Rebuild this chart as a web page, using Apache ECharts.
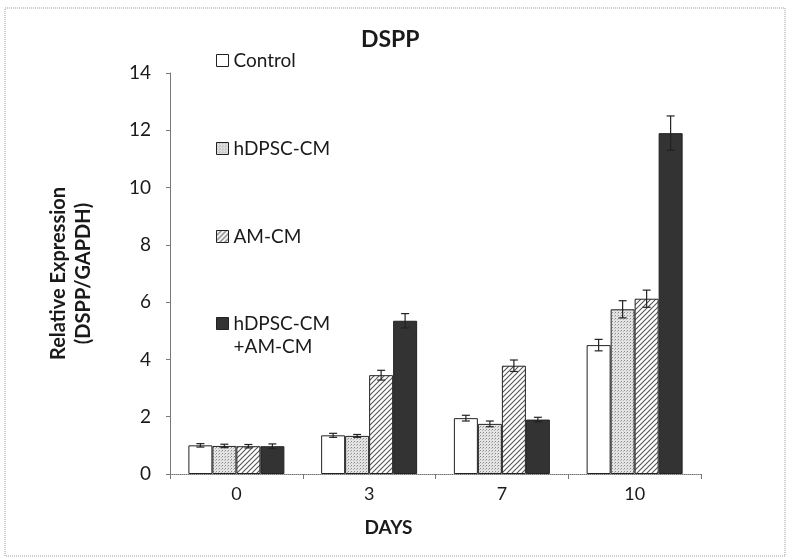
<!DOCTYPE html>
<html>
<head>
<meta charset="utf-8">
<script src="https://cdn.jsdelivr.net/npm/echarts@6/dist/echarts.min.js"></script>
<style>
  html, body { margin: 0; padding: 0; background: #fff; }
  #main { width: 794px; height: 559px; }
</style>
</head>
<body>
<div id="main"></div>
<script>
// 数据
var days = ['0', '3', '7', '10'];
var groupNames = ['Control', 'hDPSC-CM', 'AM-CM', 'hDPSC-CM +AM-CM'];
var controlVals = [1.0, 1.35, 1.95, 4.5];
var controlErr = [0.06, 0.07, 0.1, 0.2];
var hdpscVals = [0.98, 1.33, 1.75, 5.75];
var hdpscErr = [0.06, 0.05, 0.1, 0.3];
var amVals = [0.97, 3.45, 3.78, 6.12];
var amErr = [0.06, 0.17, 0.2, 0.3];
var comboVals = [0.97, 5.35, 1.9, 11.9];
var comboErr = [0.08, 0.25, 0.08, 0.6];
var yTicks = [0, 2, 4, 6, 8, 10, 12, 14];

var fontName = "Lato, 'Open Sans', sans-serif";

// 填充图案
function makeDots() {
  var c = document.createElement('canvas');
  c.width = 3; c.height = 3;
  var ctx = c.getContext('2d');
  ctx.fillStyle = '#e4e4e4';
  ctx.fillRect(0, 0, 3, 3);
  ctx.fillStyle = '#8a8a8a';
  ctx.fillRect(0, 0, 1, 1);
  ctx.fillStyle = '#b5b5b5';
  ctx.fillRect(2, 1, 1, 1);
  return c;
}
function makeHatch() {
  var c = document.createElement('canvas');
  c.width = 5; c.height = 5;
  var ctx = c.getContext('2d');
  ctx.fillStyle = '#ffffff';
  ctx.fillRect(0, 0, 5, 5);
  ctx.strokeStyle = '#555';
  ctx.lineWidth = 1.1;
  ctx.beginPath();
  ctx.moveTo(-1, 6); ctx.lineTo(6, -1);
  ctx.moveTo(-1, 1); ctx.lineTo(1, -1);
  ctx.moveTo(4, 6); ctx.lineTo(6, 4);
  ctx.stroke();
  return c;
}

var fills = [
  '#ffffff',
  { image: makeDots(), repeat: 'repeat' },
  { image: makeHatch(), repeat: 'repeat' },
  '#333333'
];
var valueLists = [controlVals, hdpscVals, amVals, comboVals];
var errLists = [controlErr, hdpscErr, amErr, comboErr];
var barW = 24;
var offsets = [-36, -12, 12, 36];

var chart = echarts.init(document.getElementById('main'), null, { renderer: 'canvas' });

var series = [];
groupNames.forEach(function (name, i) {
  series.push({
    name: name,
    type: 'bar',
    barWidth: barW,
    barGap: '0%',
    itemStyle: { color: fills[i], borderColor: '#222', borderWidth: 1 },
    data: valueLists[i],
    z: 2
  });
});
// 误差线
groupNames.forEach(function (name, i) {
  var errData = valueLists[i].map(function (v, k) { return [k, v, errLists[i][k]]; });
  series.push({
    type: 'custom',
    name: name + '_err',
    z: 5,
    silent: true,
    encode: { x: 0, y: 1 },
    data: errData,
    renderItem: function (params, api) {
      var k = api.value(0);
      var v = api.value(1);
      var e = api.value(2);
      var top = api.coord([k, v + e]);
      var bot = api.coord([k, v - e]);
      var x = top[0] + offsets[i];
      var hw = 4;
      var st = { stroke: '#222', lineWidth: 1.2 };
      return {
        type: 'group',
        children: [
          { type: 'line', shape: { x1: x, y1: top[1], x2: x, y2: bot[1] }, style: st },
          { type: 'line', shape: { x1: x - hw, y1: top[1], x2: x + hw, y2: top[1] }, style: st },
          { type: 'line', shape: { x1: x - hw, y1: bot[1], x2: x + hw, y2: bot[1] }, style: st }
        ]
      };
    }
  });
});

var legendText = { fontSize: 19, color: '#1a1a1a', lineHeight: 23, fontFamily: fontName };

var option = {
  animation: false,
  backgroundColor: '#fff',
  textStyle: { fontFamily: fontName },
  title: {
    text: 'DSPP',
    left: 356,
    top: 23,
    textStyle: { fontSize: 23, fontWeight: 'bold', color: '#1a1a1a', fontFamily: fontName }
  },
  legend: [
    {
      orient: 'vertical',
      left: 211,
      top: 44,
      itemGap: 65,
      itemWidth: 12,
      itemHeight: 12,
      icon: 'rect',
      itemStyle: { borderColor: '#222', borderWidth: 1 },
      textStyle: legendText,
      data: groupNames.slice(0, 3)
    },
    {
      orient: 'vertical',
      left: 211,
      top: 286,
      itemWidth: 12,
      itemHeight: 12,
      icon: 'rect',
      itemStyle: { borderColor: '#222', borderWidth: 1 },
      // 第一行与图标对齐
      formatter: function (name) {
        var parts = name.split(' ');
        return '{s| }\n{a|' + parts[0] + '}\n{a|' + parts[1] + '}';
      },
      textStyle: {
        fontSize: 19, color: '#1a1a1a', fontFamily: fontName,
        rich: {
          s: { fontSize: 19, lineHeight: 23 },
          a: { fontSize: 19, lineHeight: 23, color: '#1a1a1a', fontFamily: fontName }
        }
      },
      data: groupNames.slice(3)
    }
  ],
  grid: { left: 170, right: 93, top: 73, bottom: 85 },
  xAxis: {
    type: 'category',
    data: days,
    name: 'DAYS',
    nameLocation: 'middle',
    nameGap: 44,
    nameTextStyle: { fontSize: 19, fontWeight: 'bold', color: '#1a1a1a', padding: [0, 94, 0, 0] },
    axisLine: { lineStyle: { color: '#777', width: 1, type: 'dotted' } },
    axisTick: { show: true, length: 5, lineStyle: { color: '#777' } },
    axisLabel: { fontSize: 18, color: '#1a1a1a', margin: 11 }
  },
  yAxis: {
    type: 'value',
    min: yTicks[0],
    max: yTicks[yTicks.length - 1],
    interval: 2,
    name: 'Relative Expression\n(DSPP/GAPDH)',
    nameLocation: 'middle',
    nameGap: 74,
    nameTextStyle: { fontSize: 20, fontWeight: 'bold', color: '#1a1a1a', lineHeight: 25 },
    axisLine: { show: true, lineStyle: { color: '#777', width: 1 } },
    axisTick: { show: true, length: 4, lineStyle: { color: '#777' } },
    axisLabel: { fontSize: 19, color: '#1a1a1a', margin: 19 },
    splitLine: { show: false }
  },
  graphic: [
    {
      type: 'rect',
      shape: { x: 5, y: 8, width: 780, height: 548 },
      style: { fill: 'none', stroke: '#999', lineWidth: 1, lineDash: [1, 1] },
      silent: true
    }
  ],
  series: series
};

chart.setOption(option);
</script>
</body>
</html>
